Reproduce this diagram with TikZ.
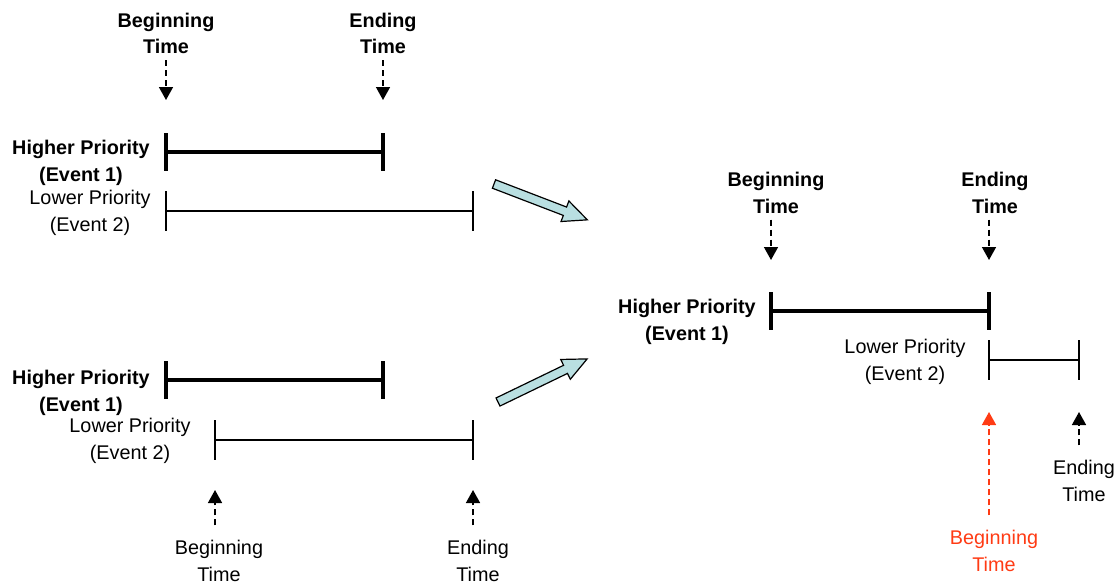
\documentclass[tikz,border=0pt]{standalone}
\usepackage{fontspec}
\setmainfont{Liberation Sans}
\usepackage{tikz}
\usetikzlibrary{arrows.meta,positioning}
\definecolor{startred}{HTML}{FF3B14}
\definecolor{shiftblue}{HTML}{B9DFE1}
\tikzset{
  lbl/.style={font=\fontsize{19.8}{26.5}\selectfont,align=center,inner xsep=2pt,inner ysep=6pt},
  blbl/.style={lbl,font=\fontsize{19.8}{26.5}\selectfont\bfseries},
  uplbl/.style={lbl,inner ysep=15pt},
  hibar/.style={line width=3.2pt},
  lobar/.style={line width=1.5pt},
  dasharr/.style={-{Triangle[length=13pt,width=14pt]},line width=1.5pt,dash pattern=on 6pt off 4pt},
  bigarr/.style={draw,line width=1.2pt,fill=shiftblue,line join=miter}
}
\begin{document}
\begin{tikzpicture}[x=1pt,y=-1pt]
\useasboundingbox (0,0) rectangle (1116,584);
% top left: both events overlap
\node[blbl] (tlbeg) at (166,33.5) {Beginning\\Time};
\node[blbl] (tlend) at (383,33.5) {Ending\\Time};
\coordinate (tlbtip) at (166,100);
\coordinate (tletip) at (383,100);
\draw[dasharr] (tlbeg.south) -- (tlbtip);
\draw[dasharr] (tlend.south) -- (tletip);
\node[blbl] (tlhi) at (81,163) {Higher Priority\\(Event 1)};
\node[lbl] (tllo) at (90,213) {Lower Priority\\(Event 2)};
\coordinate (tlh1) at (166,152);
\coordinate (tlh2) at (383,152);
\coordinate (tll1) at (166,211);
\coordinate (tll2) at (473,211);
\draw[hibar] (tlh1) -- (tlh2);
\draw[hibar] (tlh1) ++(0,-19) -- ++(0,38);
\draw[hibar] (tlh2) ++(0,-19) -- ++(0,38);
\draw[lobar] (tll1) -- (tll2);
\draw[lobar] (tll1) ++(0,-20) -- ++(0,40);
\draw[lobar] (tll2) ++(0,-20) -- ++(0,40);
% bottom left: event 2 starts later
\node[blbl] (blhi) at (81,393) {Higher Priority\\(Event 1)};
\node[lbl] (bllo) at (130,441) {Lower Priority\\(Event 2)};
\coordinate (blh1) at (166,380);
\coordinate (blh2) at (383,380);
\coordinate (bll1) at (215,440);
\coordinate (bll2) at (473,440);
\draw[hibar] (blh1) -- (blh2);
\draw[hibar] (blh1) ++(0,-19) -- ++(0,38);
\draw[hibar] (blh2) ++(0,-19) -- ++(0,38);
\draw[lobar] (bll1) -- (bll2);
\draw[lobar] (bll1) ++(0,-20) -- ++(0,40);
\draw[lobar] (bll2) ++(0,-20) -- ++(0,40);
\node[lbl,uplbl] (blbeg) at (219,561) {Beginning\\Time};
\node[lbl,uplbl] (blend) at (478,561) {Ending\\Time};
\coordinate (blbtip) at (215,490);
\coordinate (bletip) at (473,490);
\draw[dasharr] (blbeg.north -| blbtip) -- (blbtip);
\draw[dasharr] (blend.north -| bletip) -- (bletip);
% block arrows
\begin{scope}[shift={(494,184)},rotate=-21]
\filldraw[bigarr] (0,-4.5) -- (76,-4.5) -- (76,-11) -- (100,0) -- (76,11) -- (76,4.5) -- (0,4.5) -- cycle;
\end{scope}
\begin{scope}[shift={(498,402)},rotate=25.8]
\filldraw[bigarr] (0,-4.5) -- (75,-4.5) -- (75,-11) -- (99,0) -- (75,11) -- (75,4.5) -- (0,4.5) -- cycle;
\end{scope}
% right: event 2 pushed after event 1
\node[blbl] (rbeg) at (776,193) {Beginning\\Time};
\node[blbl] (rend) at (995,193) {Ending\\Time};
\coordinate (rbtip) at (771,260);
\coordinate (retip) at (989,260);
\draw[dasharr] (rbeg.south -| rbtip) -- (rbtip);
\draw[dasharr] (rend.south -| retip) -- (retip);
\node[blbl] (rhi) at (687,322) {Higher Priority\\(Event 1)};
\node[lbl] (rlo) at (905,362) {Lower Priority\\(Event 2)};
\coordinate (rh1) at (771,311);
\coordinate (rh2) at (989,311);
\coordinate (rl1) at (989,360);
\coordinate (rl2) at (1079,360);
\draw[hibar] (rh1) -- (rh2);
\draw[hibar] (rh1) ++(0,-19) -- ++(0,38);
\draw[hibar] (rh2) ++(0,-19) -- ++(0,38);
\draw[lobar] (rl1) -- (rl2);
\draw[lobar] (rl1) ++(0,-20) -- ++(0,40);
\draw[lobar] (rl2) ++(0,-20) -- ++(0,40);
\node[lbl,uplbl,text=startred] (rnbeg) at (994,551) {Beginning\\Time};
\node[lbl,uplbl] (rnend) at (1084,481) {Ending\\Time};
\coordinate (rnbtip) at (989,412);
\coordinate (rnetip) at (1079,412);
\draw[dasharr,startred] (rnbeg.north -| rnbtip) -- (rnbtip);
\draw[dasharr] (rnend.north -| rnetip) -- (rnetip);
\end{tikzpicture}
\end{document}
